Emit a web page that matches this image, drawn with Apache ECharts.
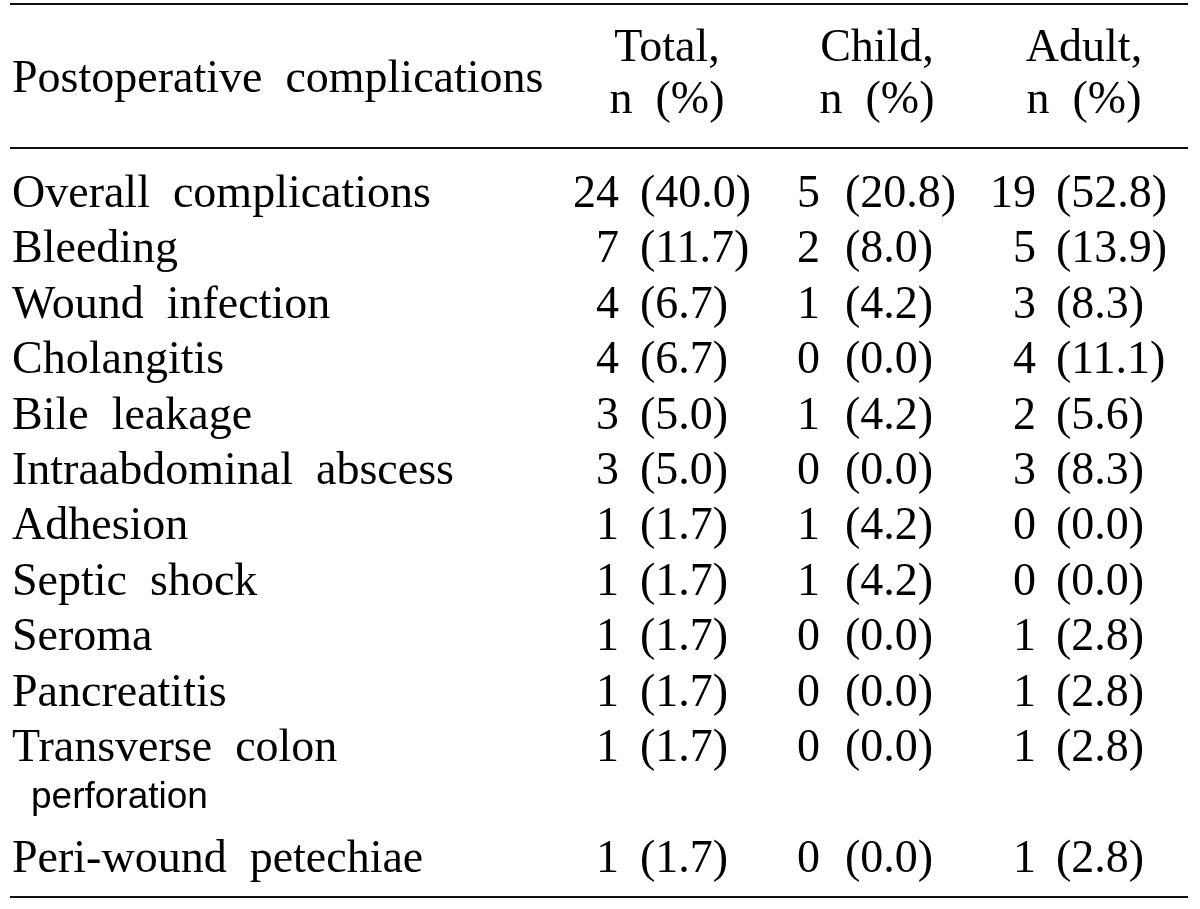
<!DOCTYPE html>
<html>
<head>
<meta charset="utf-8">
<script src="https://cdn.jsdelivr.net/npm/echarts@6/dist/echarts.min.js"></script>
<style>
  html, body { margin: 0; padding: 0; background: #ffffff; }
  #chart { width: 1200px; height: 909px; }
</style>
</head>
<body>
<div id="chart"></div>
<script>
// ---- data ----
const headerLabel = "Postoperative  complications";
const groupNames = ["Total,", "Child,", "Adult,"];
const unitLabel = "n  (%)";
const rowLabels = [
  ["Overall  complications"],
  ["Bleeding"],
  ["Wound  infection"],
  ["Cholangitis"],
  ["Bile  leakage"],
  ["Intraabdominal  abscess"],
  ["Adhesion"],
  ["Septic  shock"],
  ["Seroma"],
  ["Pancreatitis"],
  ["Transverse  colon", "perforation"],
  ["Peri-wound  petechiae"]
];
const totalN   = [24, 7, 4, 4, 3, 3, 1, 1, 1, 1, 1, 1];
const totalPct = [40.0, 11.7, 6.7, 6.7, 5.0, 5.0, 1.7, 1.7, 1.7, 1.7, 1.7, 1.7];
const childN   = [5, 2, 1, 0, 1, 0, 1, 1, 0, 0, 0, 0];
const childPct = [20.8, 8.0, 4.2, 0.0, 4.2, 0.0, 4.2, 4.2, 0.0, 0.0, 0.0, 0.0];
const adultN   = [19, 5, 3, 4, 2, 3, 0, 0, 1, 1, 1, 1];
const adultPct = [52.8, 13.9, 8.3, 11.1, 5.6, 8.3, 0.0, 0.0, 2.8, 2.8, 2.8, 2.8];

// ---- layout (style, not data) ----
const SERIF = '46px "Liberation Serif", "Times New Roman", serif';
const SANS = '37px "Liberation Sans", Arial, sans-serif';
const labelX = 12;
const contX = 31;
const contOffset = 0.88;
const countRight = [619, 820, 1036];
const pctLeft = [640, 845, 1056];
const headCenter = [667, 877, 1084];
const headRowGroup = -2.635, headRowUnit = -1.69, headRowMain = -2.07;
const ruleRows = [-3.45, -0.85, 12.67];
const ruleX0 = 10, ruleX1 = 1188;

const cols = [[totalN, totalPct], [childN, childPct], [adultN, adultPct]];

// row slot positions (a row with two text lines takes two slots)
const rowSlot = [];
let slot = 0;
rowLabels.forEach(function (lines) { rowSlot.push(slot); slot += lines.length; });

function textSeries(items, font, align) {
  return {
    type: 'custom',
    coordinateSystem: 'cartesian2d',
    clip: false,
    silent: true,
    data: items.map(function (d) { return d.v; }),
    renderItem: function (params, api) {
      const p = api.coord([api.value(0), api.value(1)]);
      return {
        type: 'text',
        x: p[0], y: p[1],
        style: {
          text: items[params.dataIndex].t,
          font: font,
          fill: '#000000',
          align: align,
          verticalAlign: 'middle'
        }
      };
    }
  };
}

const labelItems = [], contItems = [], countItems = [], pctItems = [], headItems = [];
rowLabels.forEach(function (lines, i) {
  labelItems.push({ v: [labelX, rowSlot[i]], t: lines[0] });
  for (let k = 1; k < lines.length; k++) {
    contItems.push({ v: [contX, rowSlot[i] + contOffset * k], t: lines[k] });
  }
  cols.forEach(function (c, j) {
    countItems.push({ v: [countRight[j], rowSlot[i]], t: String(c[0][i]) });
    pctItems.push({ v: [pctLeft[j], rowSlot[i]], t: '(' + c[1][i].toFixed(1) + ')' });
  });
});
groupNames.forEach(function (g, j) {
  headItems.push({ v: [headCenter[j], headRowGroup], t: g });
  headItems.push({ v: [headCenter[j], headRowUnit], t: unitLabel });
});

const rulesSeries = {
  type: 'custom',
  coordinateSystem: 'cartesian2d',
  clip: false,
  silent: true,
  data: ruleRows.map(function (r) { return [ruleX0, r, ruleX1]; }),
  renderItem: function (params, api) {
    const a = api.coord([api.value(0), api.value(1)]);
    const b = api.coord([api.value(2), api.value(1)]);
    return {
      type: 'line',
      shape: { x1: a[0], y1: a[1], x2: b[0], y2: b[1] },
      style: { stroke: '#111111', lineWidth: 2 }
    };
  }
};

const chart = echarts.init(document.getElementById('chart'), null, { renderer: 'canvas' });
chart.setOption({
  backgroundColor: '#ffffff',
  animation: false,
  grid: { left: 0, right: 0, top: 0, bottom: 0 },
  xAxis: { type: 'value', min: 0, max: 1200, show: false },
  yAxis: { type: 'value', inverse: true, min: -3.52, max: 12.888, show: false },
  series: [
    rulesSeries,
    textSeries([{ v: [labelX, headRowMain], t: headerLabel }], SERIF, 'left'),
    textSeries(headItems, SERIF, 'center'),
    textSeries(labelItems, SERIF, 'left'),
    textSeries(contItems, SANS, 'left'),
    textSeries(countItems, SERIF, 'right'),
    textSeries(pctItems, SERIF, 'left')
  ]
});
</script>
</body>
</html>
